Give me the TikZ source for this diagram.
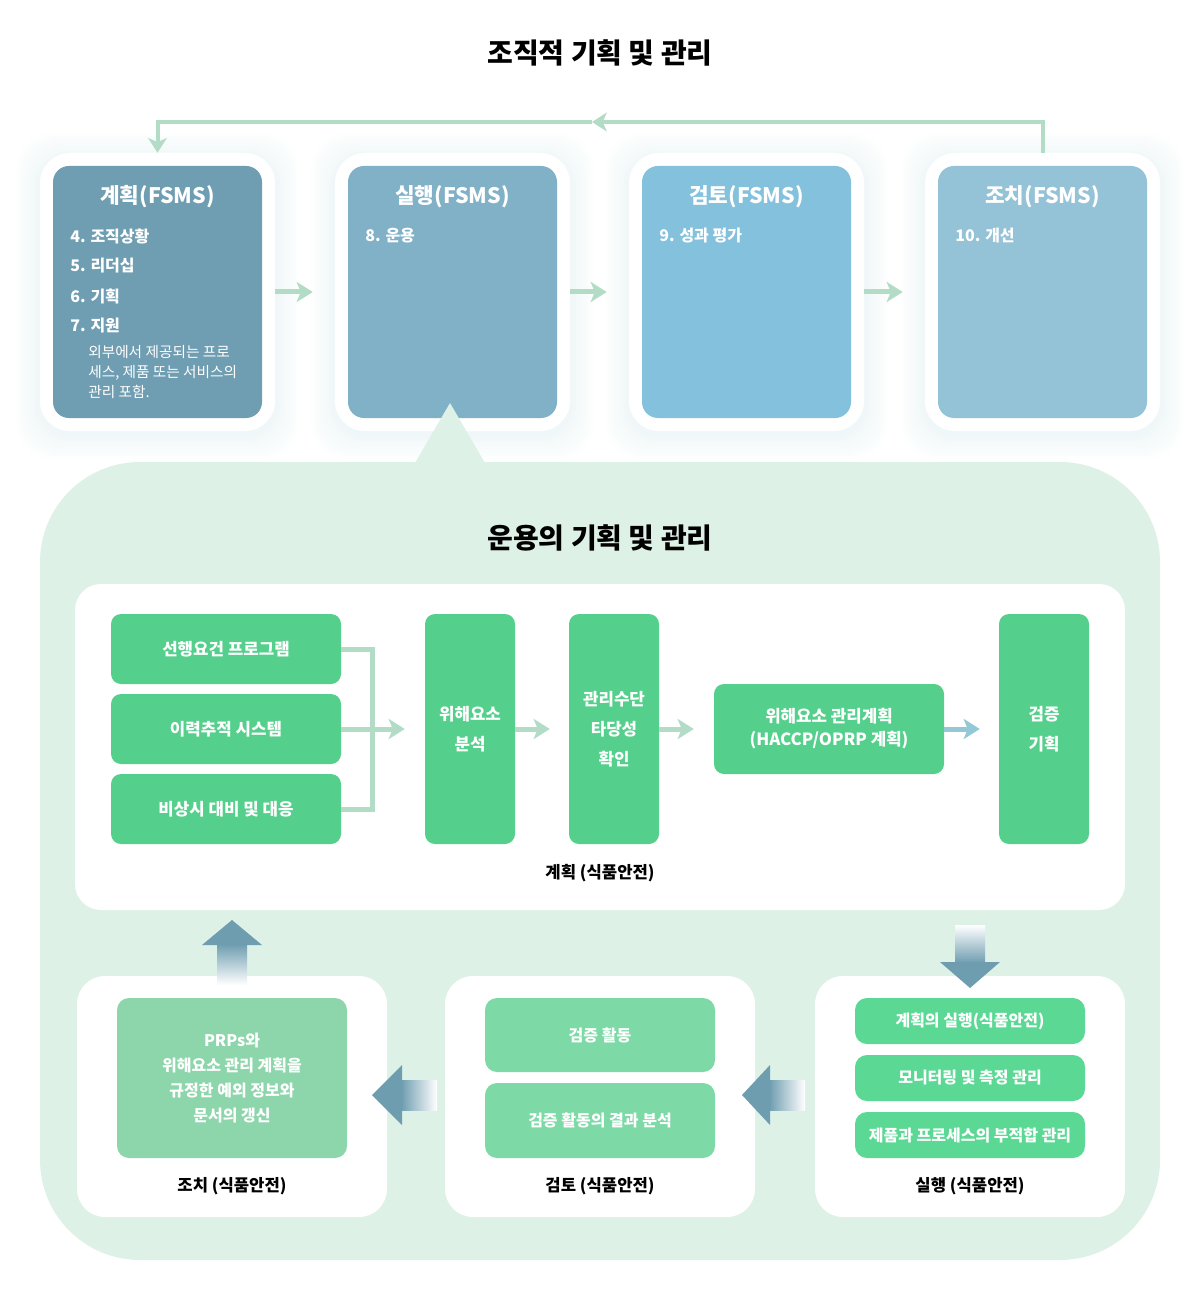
\documentclass[tikz,border=0pt]{standalone}
\usepackage{fontspec}
\setmainfont{Noto Sans CJK KR}
\usetikzlibrary{arrows.meta}

\definecolor{planc}{HTML}{6F9DB1}
\definecolor{doc}{HTML}{80B1C7}
\definecolor{checkc}{HTML}{83C1DC}
\definecolor{actc}{HTML}{94C2D6}
\definecolor{mintbg}{HTML}{DEF1E6}
\definecolor{linec}{HTML}{B3DCC6}
\definecolor{greenc}{HTML}{55CF8C}
\definecolor{prpc}{HTML}{8DD5AA}
\definecolor{reviewc}{HTML}{7DD9A6}
\definecolor{runc}{HTML}{5BD994}
\definecolor{arrowc}{HTML}{6E9DB0}
\definecolor{tipc}{HTML}{93C8D6}
\definecolor{glowc}{HTML}{5FA8BF}

\newdimen\px \px=0.75pt

\tikzset{
  heading/.style={font=\bfseries\fontsize{21}{25}\selectfont, inner sep=0pt},
  fsmsframe/.style={fill=white, rounded corners=30\px, minimum width=235\px, minimum height=278\px, inner sep=0pt},
  glow/.style={fill=glowc, opacity=0.011, rounded corners=36\px},
  fsmsbox/.style={rounded corners=16\px, minimum width=209\px, minimum height=252\px, inner sep=0pt},
  fsmstitle/.style={text=white, font=\bfseries\fontsize{16}{19}\selectfont, inner sep=0pt},
  item/.style={anchor=west, text=white, font=\bfseries\fontsize{12}{14}\selectfont, inner sep=0pt},
  note/.style={anchor=west, align=left, text=white, font=\fontsize{11}{15}\selectfont, inner sep=0pt},
  flowline/.style={linec, line width=5\px, -{Stealth[length=12pt, width=15pt, inset=3pt]}},
  loopline/.style={linec, line width=4\px, -{Stealth[length=11pt, width=14pt, inset=3pt]}},
  greenbox/.style={fill=greenc, rounded corners=10\px, text=white, inner sep=0pt, align=center,
    font=\bfseries\fontsize{12.6}{22.5}\selectfont},
  panel/.style={fill=white, rounded corners=28\px, minimum width=310\px, minimum height=241\px, inner sep=0pt},
  subbox/.style={rounded corners=12\px, text=white, inner sep=0pt, align=center, minimum width=230\px,
    font=\bfseries\fontsize{12}{18.75}\selectfont},
  caption/.style={font=\bfseries\fontsize{12.5}{15}\selectfont, inner sep=0pt}
}

\begin{document}
\begin{tikzpicture}[x=0.75pt,y=-0.75pt]
    \useasboundingbox (0,0) rectangle (1199,1301);

    % Organisational title
    \node[heading] (orgtitle) at (600,53) {조직적 기획 및 관리};

    % Soft glow round the FSMS frames
    \foreach \cx in {157.5,452.5,746.5,1042.5}
        \foreach \k in {3,6,...,24}
            \fill[glow] (\cx-117.5-\k,157-\k) rectangle (\cx+117.5+\k,435+\k);

    % Operational area
    \fill[mintbg, rounded corners=100\px] (40,462) rectangle (1160,1260);

    % FSMS frames
    \node[fsmsframe] (planout) at (157.5,292) {};
    \node[fsmsframe] (doout) at (452.5,292) {};
    \node[fsmsframe] (checkout) at (746.5,292) {};
    \node[fsmsframe] (actout) at (1042.5,292) {};

    % FSMS boxes
    \node[fsmsbox, fill=planc] (planbox) at (157.5,292) {};
    \node[fsmsbox, fill=doc] (dobox) at (452.5,292) {};
    \node[fsmsbox, fill=checkc] (checkbox) at (746.5,292) {};
    \node[fsmsbox, fill=actc] (actbox) at (1042.5,292) {};

    \node[fsmstitle] (plantitle) at (157.5,197) {계획(FSMS)};
    \node[fsmstitle] (dotitle) at (452.5,197) {실행(FSMS)};
    \node[fsmstitle] (checktitle) at (746.5,197) {검토(FSMS)};
    \node[fsmstitle] (acttitle) at (1042.5,197) {조치(FSMS)};

    % Clauses
    \node[item] (c4) at (70,236) {4. 조직상황};
    \node[item] (c5) at (70,266) {5. 리더십};
    \node[item] (c6) at (70,296) {6. 기획};
    \node[item] (c7) at (70,326) {7. 지원};
    \node[note] (c7note) at (88,372) {외부에서 제공되는 프로\\세스, 제품 또는 서비스의\\관리 포함.};
    \node[item] (c8) at (365,236) {8. 운용};
    \node[item] (c9) at (659,236) {9. 성과 평가};
    \node[item] (c10) at (955,236) {10. 개선};

    % FSMS flow
    \draw[flowline] (planout.east) -- ([xshift=-22\px]doout.west);
    \draw[flowline] (doout.east) -- ([xshift=-22\px]checkout.west);
    \draw[flowline] (checkout.east) -- ([xshift=-22\px]actout.west);

    % Feedback loop
    \coordinate (loopmid) at (592,122);
    \draw[loopline] (actout.north) |- (loopmid);
    \draw[loopline] (loopmid) -| (planout.north);

    % Link to operation
    \fill[mintbg] (415,463) -- (450,403) -- (485,463) -- cycle;
    \node[heading] (optitle) at (600,538) {운용의 기획 및 관리};

    % Planning panel
    \fill[white, rounded corners=26\px] (75,584) rectangle (1125,910);
    \node[greenbox, minimum width=230\px, minimum height=70\px] (prp) at (226,649) {선행요건 프로그램};
    \node[greenbox, minimum width=230\px, minimum height=70\px] (trace) at (226,729) {이력추적 시스템};
    \node[greenbox, minimum width=230\px, minimum height=70\px] (emerg) at (226,809) {비상시 대비 및 대응};
    \node[greenbox, minimum width=90\px, minimum height=230\px] (hazard) at (470,729) {위해요소\\분석};
    \node[greenbox, minimum width=90\px, minimum height=230\px] (valid) at (614,729) {관리수단\\타당성\\확인};
    \node[greenbox, minimum width=230\px, minimum height=90\px, font=\bfseries\fontsize{12.6}{17.25}\selectfont] (haccp) at (829,729) {위해요소 관리계획\\(HACCP/OPRP 계획)};
    \node[greenbox, minimum width=90\px, minimum height=230\px] (verplan) at (1044,729) {검증\\기획};
    \node[caption] (plancap) at (600,873) {계획 (식품안전)};

    \draw[linec, line width=5\px] (prp.east) -| ([xshift=31\px]emerg.east) -- (emerg.east);
    \draw[flowline] (trace.east) -- ([xshift=-20\px]hazard.west);
    \draw[flowline] (hazard.east) -- ([xshift=-19\px]valid.west);
    \draw[flowline] (valid.east) -- ([xshift=-20\px]haccp.west);
    \draw[flowline, tipc] (haccp.east) -- ([xshift=-19\px]verplan.west);

    % Lower panels
    \node[panel] (actpanel) at (232,1096.5) {};
    \node[panel] (reviewpanel) at (600,1096.5) {};
    \node[panel] (runpanel) at (970,1096.5) {};

    \node[subbox, fill=prpc, minimum height=160\px] (update) at (232,1078) {PRPs와\\위해요소 관리 계획을\\규정한 예외 정보와\\문서의 갱신};
    \node[subbox, fill=reviewc, minimum height=74\px] (veract) at (600,1035) {검증 활동};
    \node[subbox, fill=reviewc, minimum height=75\px] (verres) at (600,1120.5) {검증 활동의 결과 분석};
    \node[subbox, fill=runc, minimum height=46\px] (run1) at (970,1021) {계획의 실행(식품안전)};
    \node[subbox, fill=runc, minimum height=46\px] (run2) at (970,1078) {모니터링 및 측정 관리};
    \node[subbox, fill=runc, minimum height=46\px] (run3) at (970,1135) {제품과 프로세스의 부적합 관리};

    \node[caption] (actcap) at (232,1186) {조치 (식품안전)};
    \node[caption] (reviewcap) at (600,1186) {검토 (식품안전)};
    \node[caption] (runcap) at (970,1186) {실행 (식품안전)};

    % Block arrows
    \shade[top color=white, bottom color=arrowc] (955,925) rectangle (985,963);
    \fill[arrowc] (940,962) -- (1000,962) -- (970,988) -- cycle;
    \shade[left color=arrowc, right color=white] (769,1080) rectangle (805,1110);
    \fill[arrowc] (770,1065) -- (770,1125) -- (742,1095) -- cycle;
    \shade[left color=arrowc, right color=white] (401,1080) rectangle (437,1110);
    \fill[arrowc] (402,1065) -- (402,1125) -- (372,1095) -- cycle;
    \shade[top color=arrowc, bottom color=white] (217,944) rectangle (247,985);
    \fill[arrowc] (202,945) -- (262,945) -- (232,920) -- cycle;
\end{tikzpicture}
\end{document}
